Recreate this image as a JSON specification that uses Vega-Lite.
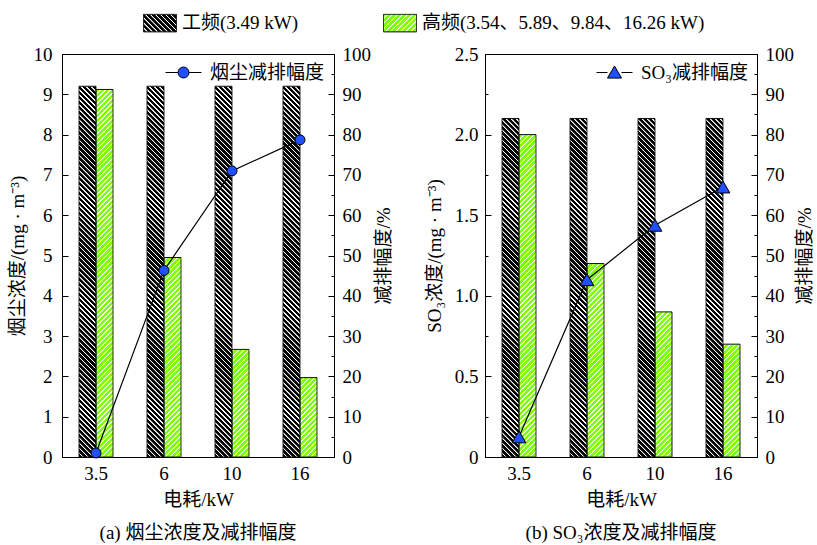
{
  "$schema": "https://vega.github.io/schema/vega-lite/v6.json",
  "background": "white",
  "padding": {"left": 7, "right": 4, "top": 6, "bottom": 4},
  "params": [
    {"name": "hatch", "value": [
      {"offset":0,"color":"#fff0"},{"offset":0.0075,"color":"#fff0"},{"offset":0.0087,"color":"#fff"},{"offset":0.0113,"color":"#fff"},
      {"offset":0.0125,"color":"#fff0"},{"offset":0.02,"color":"#fff0"},{"offset":0.0212,"color":"#fff"},{"offset":0.0238,"color":"#fff"},
      {"offset":0.025,"color":"#fff0"},{"offset":0.0325,"color":"#fff0"},{"offset":0.0337,"color":"#fff"},{"offset":0.0363,"color":"#fff"},
      {"offset":0.0375,"color":"#fff0"},{"offset":0.045,"color":"#fff0"},{"offset":0.0462,"color":"#fff"},{"offset":0.0488,"color":"#fff"},
      {"offset":0.05,"color":"#fff0"},{"offset":0.0575,"color":"#fff0"},{"offset":0.0587,"color":"#fff"},{"offset":0.0613,"color":"#fff"},
      {"offset":0.0625,"color":"#fff0"},{"offset":0.07,"color":"#fff0"},{"offset":0.0712,"color":"#fff"},{"offset":0.0738,"color":"#fff"},
      {"offset":0.075,"color":"#fff0"},{"offset":0.0825,"color":"#fff0"},{"offset":0.0837,"color":"#fff"},{"offset":0.0863,"color":"#fff"},
      {"offset":0.0875,"color":"#fff0"},{"offset":0.095,"color":"#fff0"},{"offset":0.0962,"color":"#fff"},{"offset":0.0988,"color":"#fff"},
      {"offset":0.1,"color":"#fff0"},{"offset":0.1075,"color":"#fff0"},{"offset":0.1087,"color":"#fff"},{"offset":0.1113,"color":"#fff"},
      {"offset":0.1125,"color":"#fff0"},{"offset":0.12,"color":"#fff0"},{"offset":0.1212,"color":"#fff"},{"offset":0.1238,"color":"#fff"},
      {"offset":0.125,"color":"#fff0"},{"offset":0.1325,"color":"#fff0"},{"offset":0.1337,"color":"#fff"},{"offset":0.1363,"color":"#fff"},
      {"offset":0.1375,"color":"#fff0"},{"offset":0.145,"color":"#fff0"},{"offset":0.1462,"color":"#fff"},{"offset":0.1488,"color":"#fff"},
      {"offset":0.15,"color":"#fff0"},{"offset":0.1575,"color":"#fff0"},{"offset":0.1587,"color":"#fff"},{"offset":0.1613,"color":"#fff"},
      {"offset":0.1625,"color":"#fff0"},{"offset":0.17,"color":"#fff0"},{"offset":0.1712,"color":"#fff"},{"offset":0.1738,"color":"#fff"},
      {"offset":0.175,"color":"#fff0"},{"offset":0.1825,"color":"#fff0"},{"offset":0.1837,"color":"#fff"},{"offset":0.1863,"color":"#fff"},
      {"offset":0.1875,"color":"#fff0"},{"offset":0.195,"color":"#fff0"},{"offset":0.1962,"color":"#fff"},{"offset":0.1988,"color":"#fff"},
      {"offset":0.2,"color":"#fff0"},{"offset":0.2075,"color":"#fff0"},{"offset":0.2087,"color":"#fff"},{"offset":0.2113,"color":"#fff"},
      {"offset":0.2125,"color":"#fff0"},{"offset":0.22,"color":"#fff0"},{"offset":0.2212,"color":"#fff"},{"offset":0.2238,"color":"#fff"},
      {"offset":0.225,"color":"#fff0"},{"offset":0.2325,"color":"#fff0"},{"offset":0.2337,"color":"#fff"},{"offset":0.2363,"color":"#fff"},
      {"offset":0.2375,"color":"#fff0"},{"offset":0.245,"color":"#fff0"},{"offset":0.2462,"color":"#fff"},{"offset":0.2488,"color":"#fff"},
      {"offset":0.25,"color":"#fff0"},{"offset":0.2575,"color":"#fff0"},{"offset":0.2587,"color":"#fff"},{"offset":0.2613,"color":"#fff"},
      {"offset":0.2625,"color":"#fff0"},{"offset":0.27,"color":"#fff0"},{"offset":0.2712,"color":"#fff"},{"offset":0.2738,"color":"#fff"},
      {"offset":0.275,"color":"#fff0"},{"offset":0.2825,"color":"#fff0"},{"offset":0.2837,"color":"#fff"},{"offset":0.2863,"color":"#fff"},
      {"offset":0.2875,"color":"#fff0"},{"offset":0.295,"color":"#fff0"},{"offset":0.2962,"color":"#fff"},{"offset":0.2988,"color":"#fff"},
      {"offset":0.3,"color":"#fff0"},{"offset":0.3075,"color":"#fff0"},{"offset":0.3087,"color":"#fff"},{"offset":0.3113,"color":"#fff"},
      {"offset":0.3125,"color":"#fff0"},{"offset":0.32,"color":"#fff0"},{"offset":0.3212,"color":"#fff"},{"offset":0.3238,"color":"#fff"},
      {"offset":0.325,"color":"#fff0"},{"offset":0.3325,"color":"#fff0"},{"offset":0.3337,"color":"#fff"},{"offset":0.3363,"color":"#fff"},
      {"offset":0.3375,"color":"#fff0"},{"offset":0.345,"color":"#fff0"},{"offset":0.3462,"color":"#fff"},{"offset":0.3488,"color":"#fff"},
      {"offset":0.35,"color":"#fff0"},{"offset":0.3575,"color":"#fff0"},{"offset":0.3587,"color":"#fff"},{"offset":0.3613,"color":"#fff"},
      {"offset":0.3625,"color":"#fff0"},{"offset":0.37,"color":"#fff0"},{"offset":0.3712,"color":"#fff"},{"offset":0.3738,"color":"#fff"},
      {"offset":0.375,"color":"#fff0"},{"offset":0.3825,"color":"#fff0"},{"offset":0.3837,"color":"#fff"},{"offset":0.3863,"color":"#fff"},
      {"offset":0.3875,"color":"#fff0"},{"offset":0.395,"color":"#fff0"},{"offset":0.3962,"color":"#fff"},{"offset":0.3988,"color":"#fff"},
      {"offset":0.4,"color":"#fff0"},{"offset":0.4075,"color":"#fff0"},{"offset":0.4087,"color":"#fff"},{"offset":0.4113,"color":"#fff"},
      {"offset":0.4125,"color":"#fff0"},{"offset":0.42,"color":"#fff0"},{"offset":0.4212,"color":"#fff"},{"offset":0.4238,"color":"#fff"},
      {"offset":0.425,"color":"#fff0"},{"offset":0.4325,"color":"#fff0"},{"offset":0.4337,"color":"#fff"},{"offset":0.4363,"color":"#fff"},
      {"offset":0.4375,"color":"#fff0"},{"offset":0.445,"color":"#fff0"},{"offset":0.4462,"color":"#fff"},{"offset":0.4488,"color":"#fff"},
      {"offset":0.45,"color":"#fff0"},{"offset":0.4575,"color":"#fff0"},{"offset":0.4587,"color":"#fff"},{"offset":0.4613,"color":"#fff"},
      {"offset":0.4625,"color":"#fff0"},{"offset":0.47,"color":"#fff0"},{"offset":0.4712,"color":"#fff"},{"offset":0.4738,"color":"#fff"},
      {"offset":0.475,"color":"#fff0"},{"offset":0.4825,"color":"#fff0"},{"offset":0.4837,"color":"#fff"},{"offset":0.4863,"color":"#fff"},
      {"offset":0.4875,"color":"#fff0"},{"offset":0.495,"color":"#fff0"},{"offset":0.4962,"color":"#fff"},{"offset":0.4988,"color":"#fff"},
      {"offset":0.5,"color":"#fff0"},{"offset":0.5075,"color":"#fff0"},{"offset":0.5087,"color":"#fff"},{"offset":0.5113,"color":"#fff"},
      {"offset":0.5125,"color":"#fff0"},{"offset":0.52,"color":"#fff0"},{"offset":0.5212,"color":"#fff"},{"offset":0.5238,"color":"#fff"},
      {"offset":0.525,"color":"#fff0"},{"offset":0.5325,"color":"#fff0"},{"offset":0.5337,"color":"#fff"},{"offset":0.5363,"color":"#fff"},
      {"offset":0.5375,"color":"#fff0"},{"offset":0.545,"color":"#fff0"},{"offset":0.5462,"color":"#fff"},{"offset":0.5488,"color":"#fff"},
      {"offset":0.55,"color":"#fff0"},{"offset":0.5575,"color":"#fff0"},{"offset":0.5587,"color":"#fff"},{"offset":0.5613,"color":"#fff"},
      {"offset":0.5625,"color":"#fff0"},{"offset":0.57,"color":"#fff0"},{"offset":0.5712,"color":"#fff"},{"offset":0.5738,"color":"#fff"},
      {"offset":0.575,"color":"#fff0"},{"offset":0.5825,"color":"#fff0"},{"offset":0.5837,"color":"#fff"},{"offset":0.5863,"color":"#fff"},
      {"offset":0.5875,"color":"#fff0"},{"offset":0.595,"color":"#fff0"},{"offset":0.5962,"color":"#fff"},{"offset":0.5988,"color":"#fff"},
      {"offset":0.6,"color":"#fff0"},{"offset":0.6075,"color":"#fff0"},{"offset":0.6087,"color":"#fff"},{"offset":0.6113,"color":"#fff"},
      {"offset":0.6125,"color":"#fff0"},{"offset":0.62,"color":"#fff0"},{"offset":0.6212,"color":"#fff"},{"offset":0.6238,"color":"#fff"},
      {"offset":0.625,"color":"#fff0"},{"offset":0.6325,"color":"#fff0"},{"offset":0.6337,"color":"#fff"},{"offset":0.6363,"color":"#fff"},
      {"offset":0.6375,"color":"#fff0"},{"offset":0.645,"color":"#fff0"},{"offset":0.6462,"color":"#fff"},{"offset":0.6488,"color":"#fff"},
      {"offset":0.65,"color":"#fff0"},{"offset":0.6575,"color":"#fff0"},{"offset":0.6587,"color":"#fff"},{"offset":0.6613,"color":"#fff"},
      {"offset":0.6625,"color":"#fff0"},{"offset":0.67,"color":"#fff0"},{"offset":0.6712,"color":"#fff"},{"offset":0.6738,"color":"#fff"},
      {"offset":0.675,"color":"#fff0"},{"offset":0.6825,"color":"#fff0"},{"offset":0.6837,"color":"#fff"},{"offset":0.6863,"color":"#fff"},
      {"offset":0.6875,"color":"#fff0"},{"offset":0.695,"color":"#fff0"},{"offset":0.6962,"color":"#fff"},{"offset":0.6988,"color":"#fff"},
      {"offset":0.7,"color":"#fff0"},{"offset":0.7075,"color":"#fff0"},{"offset":0.7087,"color":"#fff"},{"offset":0.7113,"color":"#fff"},
      {"offset":0.7125,"color":"#fff0"},{"offset":0.72,"color":"#fff0"},{"offset":0.7212,"color":"#fff"},{"offset":0.7238,"color":"#fff"},
      {"offset":0.725,"color":"#fff0"},{"offset":0.7325,"color":"#fff0"},{"offset":0.7337,"color":"#fff"},{"offset":0.7363,"color":"#fff"},
      {"offset":0.7375,"color":"#fff0"},{"offset":0.745,"color":"#fff0"},{"offset":0.7462,"color":"#fff"},{"offset":0.7488,"color":"#fff"},
      {"offset":0.75,"color":"#fff0"},{"offset":0.7575,"color":"#fff0"},{"offset":0.7587,"color":"#fff"},{"offset":0.7613,"color":"#fff"},
      {"offset":0.7625,"color":"#fff0"},{"offset":0.77,"color":"#fff0"},{"offset":0.7712,"color":"#fff"},{"offset":0.7738,"color":"#fff"},
      {"offset":0.775,"color":"#fff0"},{"offset":0.7825,"color":"#fff0"},{"offset":0.7837,"color":"#fff"},{"offset":0.7863,"color":"#fff"},
      {"offset":0.7875,"color":"#fff0"},{"offset":0.795,"color":"#fff0"},{"offset":0.7962,"color":"#fff"},{"offset":0.7988,"color":"#fff"},
      {"offset":0.8,"color":"#fff0"},{"offset":0.8075,"color":"#fff0"},{"offset":0.8087,"color":"#fff"},{"offset":0.8113,"color":"#fff"},
      {"offset":0.8125,"color":"#fff0"},{"offset":0.82,"color":"#fff0"},{"offset":0.8212,"color":"#fff"},{"offset":0.8238,"color":"#fff"},
      {"offset":0.825,"color":"#fff0"},{"offset":0.8325,"color":"#fff0"},{"offset":0.8337,"color":"#fff"},{"offset":0.8363,"color":"#fff"},
      {"offset":0.8375,"color":"#fff0"},{"offset":0.845,"color":"#fff0"},{"offset":0.8462,"color":"#fff"},{"offset":0.8488,"color":"#fff"},
      {"offset":0.85,"color":"#fff0"},{"offset":0.8575,"color":"#fff0"},{"offset":0.8587,"color":"#fff"},{"offset":0.8613,"color":"#fff"},
      {"offset":0.8625,"color":"#fff0"},{"offset":0.87,"color":"#fff0"},{"offset":0.8712,"color":"#fff"},{"offset":0.8738,"color":"#fff"},
      {"offset":0.875,"color":"#fff0"},{"offset":0.8825,"color":"#fff0"},{"offset":0.8837,"color":"#fff"},{"offset":0.8863,"color":"#fff"},
      {"offset":0.8875,"color":"#fff0"},{"offset":0.895,"color":"#fff0"},{"offset":0.8962,"color":"#fff"},{"offset":0.8988,"color":"#fff"},
      {"offset":0.9,"color":"#fff0"},{"offset":0.9075,"color":"#fff0"},{"offset":0.9087,"color":"#fff"},{"offset":0.9113,"color":"#fff"},
      {"offset":0.9125,"color":"#fff0"},{"offset":0.92,"color":"#fff0"},{"offset":0.9212,"color":"#fff"},{"offset":0.9238,"color":"#fff"},
      {"offset":0.925,"color":"#fff0"},{"offset":0.9325,"color":"#fff0"},{"offset":0.9337,"color":"#fff"},{"offset":0.9363,"color":"#fff"},
      {"offset":0.9375,"color":"#fff0"},{"offset":0.945,"color":"#fff0"},{"offset":0.9462,"color":"#fff"},{"offset":0.9488,"color":"#fff"},
      {"offset":0.95,"color":"#fff0"},{"offset":0.9575,"color":"#fff0"},{"offset":0.9587,"color":"#fff"},{"offset":0.9613,"color":"#fff"},
      {"offset":0.9625,"color":"#fff0"},{"offset":0.97,"color":"#fff0"},{"offset":0.9712,"color":"#fff"},{"offset":0.9738,"color":"#fff"},
      {"offset":0.975,"color":"#fff0"},{"offset":0.9825,"color":"#fff0"},{"offset":0.9837,"color":"#fff"},{"offset":0.9863,"color":"#fff"},
      {"offset":0.9875,"color":"#fff0"},{"offset":0.995,"color":"#fff0"},{"offset":0.9962,"color":"#fff"},{"offset":0.9988,"color":"#fff"},
      {"offset":1,"color":"#fff0"}
    ]},
    {"name": "legK", "value": [
      {"offset":0,"color":"#000"},{"offset":0.06,"color":"#000"},{"offset":0.07,"color":"#fff"},{"offset":0.09,"color":"#fff"},
      {"offset":0.1,"color":"#000"},{"offset":0.16,"color":"#000"},{"offset":0.17,"color":"#fff"},{"offset":0.19,"color":"#fff"},
      {"offset":0.2,"color":"#000"},{"offset":0.26,"color":"#000"},{"offset":0.27,"color":"#fff"},{"offset":0.29,"color":"#fff"},
      {"offset":0.3,"color":"#000"},{"offset":0.36,"color":"#000"},{"offset":0.37,"color":"#fff"},{"offset":0.39,"color":"#fff"},
      {"offset":0.4,"color":"#000"},{"offset":0.46,"color":"#000"},{"offset":0.47,"color":"#fff"},{"offset":0.49,"color":"#fff"},
      {"offset":0.5,"color":"#000"},{"offset":0.56,"color":"#000"},{"offset":0.57,"color":"#fff"},{"offset":0.59,"color":"#fff"},
      {"offset":0.6,"color":"#000"},{"offset":0.66,"color":"#000"},{"offset":0.67,"color":"#fff"},{"offset":0.69,"color":"#fff"},
      {"offset":0.7,"color":"#000"},{"offset":0.76,"color":"#000"},{"offset":0.77,"color":"#fff"},{"offset":0.79,"color":"#fff"},
      {"offset":0.8,"color":"#000"},{"offset":0.86,"color":"#000"},{"offset":0.87,"color":"#fff"},{"offset":0.89,"color":"#fff"},
      {"offset":0.9,"color":"#000"},{"offset":0.96,"color":"#000"},{"offset":0.97,"color":"#fff"},{"offset":0.99,"color":"#fff"},
      {"offset":1,"color":"#000"}
    ]},
    {"name": "legG", "value": [
      {"offset":0,"color":"#7fff00"},{"offset":0.06,"color":"#7fff00"},{"offset":0.07,"color":"#fff"},{"offset":0.09,"color":"#fff"},
      {"offset":0.1,"color":"#7fff00"},{"offset":0.16,"color":"#7fff00"},{"offset":0.17,"color":"#fff"},{"offset":0.19,"color":"#fff"},
      {"offset":0.2,"color":"#7fff00"},{"offset":0.26,"color":"#7fff00"},{"offset":0.27,"color":"#fff"},{"offset":0.29,"color":"#fff"},
      {"offset":0.3,"color":"#7fff00"},{"offset":0.36,"color":"#7fff00"},{"offset":0.37,"color":"#fff"},{"offset":0.39,"color":"#fff"},
      {"offset":0.4,"color":"#7fff00"},{"offset":0.46,"color":"#7fff00"},{"offset":0.47,"color":"#fff"},{"offset":0.49,"color":"#fff"},
      {"offset":0.5,"color":"#7fff00"},{"offset":0.56,"color":"#7fff00"},{"offset":0.57,"color":"#fff"},{"offset":0.59,"color":"#fff"},
      {"offset":0.6,"color":"#7fff00"},{"offset":0.66,"color":"#7fff00"},{"offset":0.67,"color":"#fff"},{"offset":0.69,"color":"#fff"},
      {"offset":0.7,"color":"#7fff00"},{"offset":0.76,"color":"#7fff00"},{"offset":0.77,"color":"#fff"},{"offset":0.79,"color":"#fff"},
      {"offset":0.8,"color":"#7fff00"},{"offset":0.86,"color":"#7fff00"},{"offset":0.87,"color":"#fff"},{"offset":0.89,"color":"#fff"},
      {"offset":0.9,"color":"#7fff00"},{"offset":0.96,"color":"#7fff00"},{"offset":0.97,"color":"#fff"},{"offset":0.99,"color":"#fff"},
      {"offset":1,"color":"#7fff00"}
    ]}
  ],
  "datasets": {
    "dustBars": [
      {"kw": "3.5", "type": "工频", "value": 9.2},
      {"kw": "3.5", "type": "高频", "value": 9.12},
      {"kw": "6", "type": "工频", "value": 9.2},
      {"kw": "6", "type": "高频", "value": 4.95},
      {"kw": "10", "type": "工频", "value": 9.2},
      {"kw": "10", "type": "高频", "value": 2.67},
      {"kw": "16", "type": "工频", "value": 9.2},
      {"kw": "16", "type": "高频", "value": 1.97}
    ],
    "dustRate": [
      {"kw": "3.5", "rate": 1},
      {"kw": "6", "rate": 46.3},
      {"kw": "10", "rate": 71},
      {"kw": "16", "rate": 78.7}
    ],
    "so3Bars": [
      {"kw": "3.5", "type": "工频", "value": 2.1},
      {"kw": "3.5", "type": "高频", "value": 2.0},
      {"kw": "6", "type": "工频", "value": 2.1},
      {"kw": "6", "type": "高频", "value": 1.2},
      {"kw": "10", "type": "工频", "value": 2.1},
      {"kw": "10", "type": "高频", "value": 0.9},
      {"kw": "16", "type": "工频", "value": 2.1},
      {"kw": "16", "type": "高频", "value": 0.7}
    ],
    "so3Rate": [
      {"kw": "3.5", "rate": 5},
      {"kw": "6", "rate": 44},
      {"kw": "10", "rate": 57.5},
      {"kw": "16", "rate": 67}
    ]
  },
  "align": "none",
  "spacing": 30,
  "hconcat": [
    {
      "width": 272,
      "height": 403,
      "title": {"text": "(a) 烟尘浓度及减排幅度", "orient": "bottom", "frame": "group", "offset": 15},
      "layer": [
        {
          "data": {"name": "dustBars"},
          "encoding": {
            "x": {"field": "kw", "type": "ordinal", "sort": ["3.5", "6", "10", "16"],
                  "scale": {"paddingInner": 0.5, "paddingOuter": 0.25},
                  "axis": {"title": "电耗/kW", "labelAngle": 0, "ticks": false, "labelPadding": 7, "titlePadding": 7}},
            "xOffset": {"field": "type", "type": "nominal", "scale": {"domain": ["工频", "高频"]}}
          },
          "layer": [
            {
              "mark": {"type": "bar", "strokeWidth": 0},
              "encoding": {
                "y": {"field": "value", "type": "quantitative", "scale": {"domain": [0, 10], "nice": false},
                      "axis": {"title": "烟尘浓度/(mg · m⁻³)", "values": [0,0.5,1,1.5,2,2.5,3,3.5,4,4.5,5,5.5,6,6.5,7,7.5,8,8.5,9,9.5,10],
                               "labelExpr": "datum.value % 1 === 0 ? format(datum.value, 'd') : ''",
                               "tickSize": {"condition": {"test": "datum.value % 1 === 0", "value": -6}, "value": -3},
                               "labelPadding": 16, "titlePadding": 6, "labelOverlap": false, "labelFlush": false}},
                "fill": {"condition": {"test": "datum.type === '工频'", "value": "#000000"}, "value": "#7fff00"}
              }
            },
            {
              "transform": [{"filter": "datum.type === '工频'"}],
              "mark": {"type": "bar", "strokeWidth": 0, "fill": {"expr": "{gradient:'linear',x1:0,y1:1,x2:0.0458,y2:-0.0419,stops:hatch}"}},
              "encoding": {"y": {"datum": 9.6, "type": "quantitative"}, "y2": {"datum": 0}}
            },
            {
              "transform": [{"filter": "datum.type === '高频'"}],
              "mark": {"type": "bar", "strokeWidth": 0, "fill": {"expr": "{gradient:'linear',x1:0,y1:0,x2:0.0458,y2:1.0419,stops:hatch}"}},
              "encoding": {"y": {"datum": 9.6, "type": "quantitative"}, "y2": {"datum": 0}}
            },
            {
              "mark": {"type": "bar", "fill": "white", "strokeWidth": 0},
              "encoding": {"y": {"field": "value", "type": "quantitative"}, "y2": {"datum": 9.6}}
            },
            {
              "mark": {"type": "bar", "fill": "transparent", "stroke": "#111", "strokeWidth": 1},
              "encoding": {
                "y": {"field": "value", "type": "quantitative"},
                "strokeDash": {"field": "type", "type": "nominal", "scale": {"domain": ["工频", "高频"], "range": [[1, 0], [1, 0]]},
                               "legend": {"orient": "none", "legendX": 81, "legendY": -48, "direction": "horizontal", "title": null,
                                          "symbolType": "M-1,-0.53H1V0.53H-1Z", "symbolSize": 1089, "symbolStrokeColor": "#000", "symbolStrokeWidth": 1,
                                          "labelFontSize": 19, "labelOffset": 5, "columnPadding": 82, "labelLimit": 600,
                                          "labelExpr": "datum.value === '工频' ? '工频(3.49 kW)' : '高频(3.54、5.89、9.84、16.26 kW)'",
                                          "encoding": {"symbols": {
                                            "stroke": {"value": "#000"}, "strokeWidth": {"value": 1},
                                            "fill": {"condition": {"test": "datum.value === '工频'", "value": {"expr": "{gradient:'linear',x1:0,y1:1,x2:1.1945,y2:0.3669,stops:legK}"}},
                                                     "value": {"expr": "{gradient:'linear',x1:0,y1:0,x2:1.1945,y2:0.6331,stops:legG}"}}}}}}
              }
            }
          ]
        },
        {
          "data": {"name": "dustRate"},
          "mark": {"type": "line", "strokeWidth": 1.2, "point": {"filled": true, "fill": "#1f4fff", "stroke": "#000", "strokeWidth": 1, "size": 100}},
          "encoding": {
            "x": {"field": "kw", "type": "ordinal", "sort": ["3.5", "6", "10", "16"]},
            "y": {"field": "rate", "type": "quantitative", "scale": {"domain": [0, 100], "nice": false},
                  "axis": {"orient": "right", "title": "减排幅度/%", "titleAngle": -90, "titleBaseline": "top",
                           "values": [0,5,10,15,20,25,30,35,40,45,50,55,60,65,70,75,80,85,90,95,100],
                           "labelExpr": "datum.value % 10 === 0 ? format(datum.value, 'd') : ''",
                           "tickSize": {"condition": {"test": "datum.value % 10 === 0", "value": -6}, "value": -3},
                           "labelPadding": 14, "titlePadding": 4, "labelOverlap": false, "labelFlush": false}},
            "stroke": {"datum": "烟尘减排幅度", "type": "nominal", "scale": {"range": ["#000000"]},
                       "legend": {"orient": "top-right", "offset": 9, "padding": 0, "title": null,
                                  "symbolType": "M-2,0H-0.61M0.61,0H2M-0.61,0A0.61,0.61,0,1,1,0.61,0A0.61,0.61,0,1,1,-0.61,0Z",
                                  "symbolSize": 324, "symbolStrokeWidth": 1, "symbolStrokeColor": "#000",
                                  "labelFontSize": 19, "labelOffset": 17, "labelLimit": 400}}
          }
        }
      ],
      "resolve": {"scale": {"y": "independent"}}
    },
    {
      "width": 272,
      "height": 403,
      "title": {"text": "(b) SO₃浓度及减排幅度", "orient": "bottom", "frame": "group", "offset": 15},
      "layer": [
        {
          "data": {"name": "so3Bars"},
          "encoding": {
            "x": {"field": "kw", "type": "ordinal", "sort": ["3.5", "6", "10", "16"],
                  "scale": {"paddingInner": 0.5, "paddingOuter": 0.25},
                  "axis": {"title": "电耗/kW", "labelAngle": 0, "ticks": false, "labelPadding": 7, "titlePadding": 7}},
            "xOffset": {"field": "type", "type": "nominal", "scale": {"domain": ["工频", "高频"]}}
          },
          "layer": [
            {
              "mark": {"type": "bar", "strokeWidth": 0},
              "encoding": {
                "y": {"field": "value", "type": "quantitative", "scale": {"domain": [0, 2.5], "nice": false},
                      "axis": {"title": "SO₃浓度/(mg · m⁻³)", "values": [0,0.25,0.5,0.75,1,1.25,1.5,1.75,2,2.25,2.5],
                               "labelExpr": "datum.value % 0.5 === 0 ? (datum.value === 0 ? '0' : format(datum.value, '.1f')) : ''",
                               "tickSize": {"condition": {"test": "datum.value % 0.5 === 0", "value": -6}, "value": -3},
                               "labelPadding": 13, "titlePadding": 10, "labelOverlap": false, "labelFlush": false}},
                "fill": {"condition": {"test": "datum.type === '工频'", "value": "#000000"}, "value": "#7fff00"}
              }
            },
            {
              "transform": [{"filter": "datum.type === '工频'"}],
              "mark": {"type": "bar", "strokeWidth": 0, "fill": {"expr": "{gradient:'linear',x1:0,y1:1,x2:0.0458,y2:-0.0419,stops:hatch}"}},
              "encoding": {"y": {"datum": 2.4, "type": "quantitative"}, "y2": {"datum": 0}}
            },
            {
              "transform": [{"filter": "datum.type === '高频'"}],
              "mark": {"type": "bar", "strokeWidth": 0, "fill": {"expr": "{gradient:'linear',x1:0,y1:0,x2:0.0458,y2:1.0419,stops:hatch}"}},
              "encoding": {"y": {"datum": 2.4, "type": "quantitative"}, "y2": {"datum": 0}}
            },
            {
              "mark": {"type": "bar", "fill": "white", "strokeWidth": 0},
              "encoding": {"y": {"field": "value", "type": "quantitative"}, "y2": {"datum": 2.4}}
            },
            {
              "mark": {"type": "bar", "fill": "transparent", "stroke": "#111", "strokeWidth": 1},
              "encoding": {
                "y": {"field": "value", "type": "quantitative"},
                "strokeDash": {"field": "type", "type": "nominal", "scale": {"domain": ["工频", "高频"], "range": [[1, 0], [1, 0]]},
                               "legend": {"orient": "none", "legendX": 81, "legendY": -48, "direction": "horizontal", "title": null,
                                          "symbolType": "M-1,-0.53H1V0.53H-1Z", "symbolSize": 1089, "symbolStrokeColor": "#000", "symbolStrokeWidth": 1,
                                          "labelFontSize": 19, "labelOffset": 5, "columnPadding": 82, "labelLimit": 600,
                                          "labelExpr": "datum.value === '工频' ? '工频(3.49 kW)' : '高频(3.54、5.89、9.84、16.26 kW)'",
                                          "encoding": {"symbols": {
                                            "stroke": {"value": "#000"}, "strokeWidth": {"value": 1},
                                            "fill": {"condition": {"test": "datum.value === '工频'", "value": {"expr": "{gradient:'linear',x1:0,y1:1,x2:1.1945,y2:0.3669,stops:legK}"}},
                                                     "value": {"expr": "{gradient:'linear',x1:0,y1:0,x2:1.1945,y2:0.6331,stops:legG}"}}}}}}
              }
            }
          ]
        },
        {
          "data": {"name": "so3Rate"},
          "mark": {"type": "line", "strokeWidth": 1.2, "point": {"filled": true, "fill": "#1f4fff", "stroke": "#000", "strokeWidth": 1, "size": 190, "shape": "triangle-up"}},
          "encoding": {
            "x": {"field": "kw", "type": "ordinal", "sort": ["3.5", "6", "10", "16"]},
            "y": {"field": "rate", "type": "quantitative", "scale": {"domain": [0, 100], "nice": false},
                  "axis": {"orient": "right", "title": "减排幅度/%", "titleAngle": -90, "titleBaseline": "top",
                           "values": [0,5,10,15,20,25,30,35,40,45,50,55,60,65,70,75,80,85,90,95,100],
                           "labelExpr": "datum.value % 10 === 0 ? format(datum.value, 'd') : ''",
                           "tickSize": {"condition": {"test": "datum.value % 10 === 0", "value": -6}, "value": -3},
                           "labelPadding": 14, "titlePadding": 2, "labelOverlap": false, "labelFlush": false}},
            "stroke": {"datum": "SO₃减排幅度", "type": "nominal", "scale": {"range": ["#000000"]},
                       "legend": {"orient": "top-right", "offset": 9, "padding": 0, "title": null,
                                  "symbolType": "M-2,0H-0.78M0.78,0H2M-0.78,0.62L0,-0.72L0.78,0.62Z",
                                  "symbolSize": 324, "symbolStrokeWidth": 1, "symbolStrokeColor": "#000",
                                  "labelFontSize": 19, "labelOffset": 17, "labelLimit": 400}}
          }
        }
      ],
      "resolve": {"scale": {"y": "independent"}}
    }
  ],
  "resolve": {"scale": {"stroke": "independent"}, "legend": {"stroke": "independent"}},
  "config": {
    "font": "Liberation Serif, Noto Sans CJK SC",
    "view": {"stroke": "#000", "strokeWidth": 1},
    "axis": {"grid": false, "domainColor": "#000", "domainWidth": 1, "tickColor": "#000", "tickWidth": 1,
             "labelColor": "#000", "titleColor": "#000", "labelFontSize": 19, "titleFontSize": 19,
             "titleFontWeight": "normal", "labelFont": "Liberation Serif, Noto Sans CJK SC", "titleFont": "Liberation Serif, Noto Sans CJK SC", "zindex": 1},
    "legend": {"labelFont": "Liberation Serif, Noto Sans CJK SC", "labelColor": "#000", "labelFontSize": 19},
    "title": {"font": "Liberation Serif, Noto Sans CJK SC", "fontSize": 19, "fontWeight": "normal", "color": "#000"}
  }
}
